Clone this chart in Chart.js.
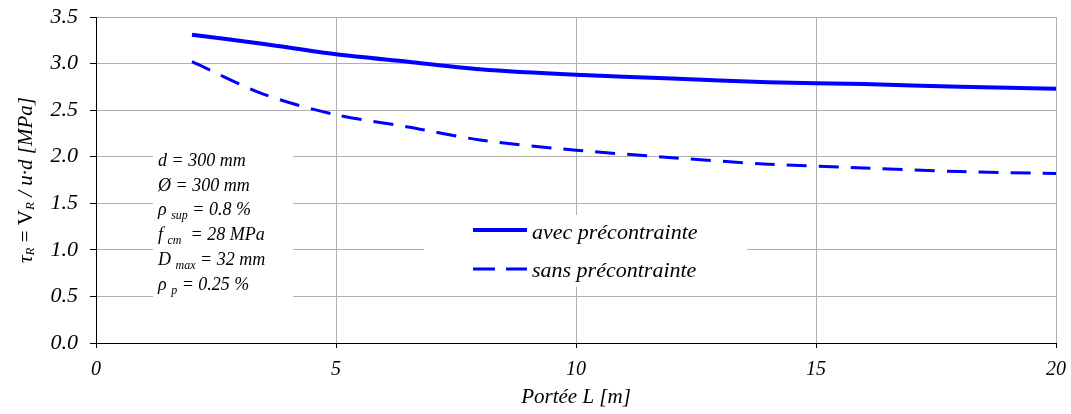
<!DOCTYPE html>
<html>
<head>
<meta charset="utf-8">
<script src="https://cdn.jsdelivr.net/npm/chart.js@4/dist/chart.umd.min.js"></script>
<style>
  html, body { margin: 0; padding: 0; background: #fff; }
  #wrap { width: 1071px; height: 414px; position: relative; }
</style>
</head>
<body>
<div id="wrap"><canvas id="c"></canvas></div>
<script>
const spans = [2, 3.5, 5, 6.5, 8, 10, 12, 14, 16, 18, 20]
const avecValues = [3.31, 3.21, 3.10, 3.02, 2.94, 2.88, 2.84, 2.80, 2.78, 2.75, 2.73]
const sansValues = [3.02, 2.67, 2.45, 2.32, 2.18, 2.07, 1.99, 1.92, 1.88, 1.84, 1.82]
const seriesNames = ["avec précontrainte", "sans précontrainte"]
const xTitle = "Portée L [m]"
const paramLines = [
  [["d = 300 mm"]],
  [["Ø = 300 mm"]],
  [["ρ "], ["sup", 1], [" = 0.8 %"]],
  [["f "], ["cm", 1], ["  = 28 MPa"]],
  [["D "], ["max", 1], [" = 32 mm"]],
  [["ρ "], ["p", 1], [" = 0.25 %"]]
]

const serif = "'Liberation Serif', 'DejaVu Serif', serif"
const blue = "#0000ff"

function drawRich(ctx, parts, x, y, size, subSize) {
  let cx = x
  parts.forEach(([t, sub]) => {
    ctx.font = "italic " + (sub ? subSize : size) + "px " + serif
    ctx.fillText(t, cx, sub ? y + size * 0.3 : y)
    cx += ctx.measureText(t).width
  })
}

const overlay = {
  id: "overlay",
  beforeDatasetsDraw(chart) {
    const ctx = chart.ctx
    ctx.save()
    // parameter box
    ctx.fillStyle = "#fff"
    ctx.fillRect(153, 146, 140, 160)
    // legend box
    ctx.fillRect(424, 215, 323, 72)
    ctx.fillStyle = "#000"
    ctx.textBaseline = "middle"
    ctx.textAlign = "left"
    paramLines.forEach((parts, i) => {
      drawRich(ctx, parts, 158, 161 + i * 24.8, 18, 12)
    })
    // legend
    ctx.strokeStyle = blue
    ctx.lineWidth = 4
    ctx.beginPath(); ctx.moveTo(473, 230); ctx.lineTo(527, 230); ctx.stroke()
    ctx.lineWidth = 3
    ctx.setLineDash([22, 11])
    ctx.beginPath(); ctx.moveTo(473, 269); ctx.lineTo(527, 269); ctx.stroke()
    ctx.setLineDash([])
    ctx.font = "italic 22px " + serif
    ctx.fillText(seriesNames[0], 532, 233)
    ctx.fillText(seriesNames[1], 532, 271)
    ctx.restore()
  },
  afterDraw(chart) {
    const ctx = chart.ctx
    ctx.save()
    ctx.translate(26, 180)
    ctx.rotate(-Math.PI / 2)
    ctx.fillStyle = "#000"
    ctx.textBaseline = "middle"
    const parts = [
      ["τ", "i", 21], ["R", "s", 13], [" = V", "n", 21], ["R", "s", 13], [" / u·d [MPa]", "i", 21]
    ]
    let w = 0
    parts.forEach(([t, st, sz]) => {
      ctx.font = (st === "n" ? "" : "italic ") + sz + "px " + serif
      w += ctx.measureText(t).width
    })
    let cx = -w / 2
    parts.forEach(([t, st, sz]) => {
      ctx.font = (st === "n" ? "" : "italic ") + sz + "px " + serif
      ctx.fillText(t, cx, st === "s" ? 5 : 0)
      cx += ctx.measureText(t).width
    })
    ctx.restore()
  }
}

new Chart(document.getElementById("c"), {
  type: "line",
  data: {
    datasets: [{
      label: seriesNames[0],
      data: spans.map((x, i) => ({ x, y: avecValues[i] })),
      borderColor: blue,
      borderWidth: 4,
      pointRadius: 0,
      tension: 0.3
    }, {
      label: seriesNames[1],
      data: spans.map((x, i) => ({ x, y: sansValues[i] })),
      borderColor: blue,
      borderWidth: 3,
      borderDash: [20, 12],
      pointRadius: 0,
      tension: 0.3
    }]
  },
  options: {
    responsive: true,
    maintainAspectRatio: false,
    animation: false,
    layout: { padding: { top: 17, right: 15, left: 0, bottom: 0 } },
    plugins: {
      legend: { display: false },
      tooltip: { enabled: false }
    },
    scales: {
      x: {
        type: "linear",
        min: 0,
        max: 20,
        ticks: {
          stepSize: 5,
          padding: 10,
          color: "#000",
          font: { family: serif, style: "italic", size: 20 }
        },
        grid: { color: "#b0b0b0", tickColor: "#000", tickLength: 5 },
        border: { color: "#000", width: 1 },
        title: {
          display: true,
          text: xTitle,
          color: "#000",
          padding: { top: 0, bottom: 4 },
          font: { family: serif, style: "italic", size: 21 }
        },
        afterFit(scale) {
          scale.height = 71
          scale.paddingLeft = 0
          scale.paddingRight = 0
        }
      },
      y: {
        min: 0,
        max: 3.5,
        ticks: {
          stepSize: 0.5,
          padding: 12,
          color: "#000",
          font: { family: serif, style: "italic", size: 22 },
          callback: v => v.toFixed(1)
        },
        grid: { color: "#b0b0b0", tickColor: "#000", tickLength: 6 },
        border: { color: "#000", width: 1 },
        afterFit(scale) {
          scale.width = 96
          scale.paddingTop = 0
          scale.paddingBottom = 0
        }
      }
    }
  },
  plugins: [overlay]
})
</script>
</body>
</html>
